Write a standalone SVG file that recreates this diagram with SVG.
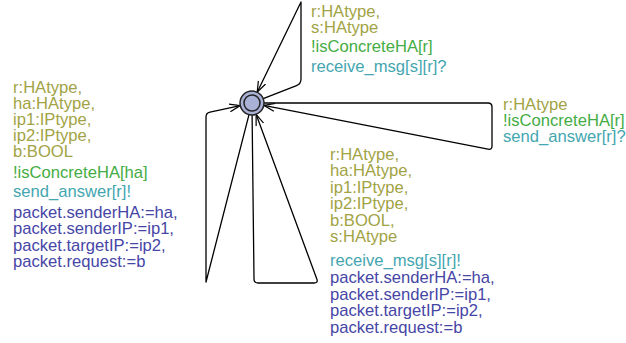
<svg xmlns="http://www.w3.org/2000/svg" width="626" height="343" viewBox="0 0 626 343">
<style>
text{font-family:"Liberation Sans",Arial,sans-serif;font-size:16.6px}
.sel{fill:#a2a344}
.grd{fill:#44ac44}
.syn{fill:#44a6b0}
.upd{fill:#4646a6}
.edge{fill:none;stroke:#000;stroke-width:1.3;stroke-linejoin:round;marker-end:url(#arr)}
</style>
<defs>
<marker id="arr" viewBox="0 0 12 10" refX="11" refY="5" markerWidth="12" markerHeight="10" markerUnits="userSpaceOnUse" orient="auto">
<path d="M0,1 L11,5 L0,9" fill="none" stroke="#000" stroke-width="1.2"/>
</marker>
</defs>
<g id="connectors">
<path class="edge" d="M263.2,98.6 L296.5,85.6 Q301,84 301,79 L301,2 L257.2,92.2"/>
<path class="edge" d="M264,103 L488,103 Q492,103 492,107 L492,146 Q492,150 488,149.2 L263.8,105.3"/>
<path class="edge" d="M249,114.6 L206,282 L206,117 Q206,113 210,112.2 L240.3,105.6"/>
<path class="edge" d="M252.1,115 L254,279 Q254,283 258,283 L314,283 Q318,283 317,279.5 L256.1,114.3"/>
</g>
<g id="node0">
<circle cx="252" cy="103" r="12" fill="#a9b1d6" stroke="#222" stroke-width="1.5"/>
<circle cx="252" cy="103" r="8" fill="none" stroke="#222" stroke-width="1.5"/>
</g>
<g id="label-top">
<text x="311" y="16.5" class="sel">r:HAtype,</text>
<text x="311" y="32.5" class="sel">s:HAtype</text>
<text x="311" y="52" class="grd">!isConcreteHA[r]</text>
<text x="311" y="72" class="syn">receive_msg[s][r]?</text>
</g>
<g id="label-right">
<text x="503" y="110" class="sel">r:HAtype</text>
<text x="503" y="126" class="grd">!isConcreteHA[r]</text>
<text x="503" y="142" class="syn">send_answer[r]?</text>
</g>
<g id="label-left">
<text x="13" y="93" class="sel">r:HAtype,</text>
<text x="13" y="109.1" class="sel">ha:HAtype,</text>
<text x="13" y="125.2" class="sel">ip1:IPtype,</text>
<text x="13" y="141.3" class="sel">ip2:IPtype,</text>
<text x="13" y="157.4" class="sel">b:BOOL</text>
<text x="13" y="178" class="grd">!isConcreteHA[ha]</text>
<text x="13" y="197" class="syn">send_answer[r]!</text>
<text x="13" y="218" class="upd">packet.senderHA:=ha,</text>
<text x="13" y="234.3" class="upd">packet.senderIP:=ip1,</text>
<text x="13" y="250.6" class="upd">packet.targetIP:=ip2,</text>
<text x="13" y="266.9" class="upd">packet.request:=b</text>
</g>
<g id="label-bottom">
<text x="330" y="160" class="sel">r:HAtype,</text>
<text x="330" y="176.4" class="sel">ha:HAtype,</text>
<text x="330" y="192.8" class="sel">ip1:IPtype,</text>
<text x="330" y="209.2" class="sel">ip2:IPtype,</text>
<text x="330" y="225.6" class="sel">b:BOOL,</text>
<text x="330" y="242" class="sel">s:HAtype</text>
<text x="330" y="265.5" class="syn">receive_msg[s][r]!</text>
<text x="330" y="283" class="upd">packet.senderHA:=ha,</text>
<text x="330" y="299.5" class="upd">packet.senderIP:=ip1,</text>
<text x="330" y="316" class="upd">packet.targetIP:=ip2,</text>
<text x="330" y="332.5" class="upd">packet.request:=b</text>
</g>
</svg>
